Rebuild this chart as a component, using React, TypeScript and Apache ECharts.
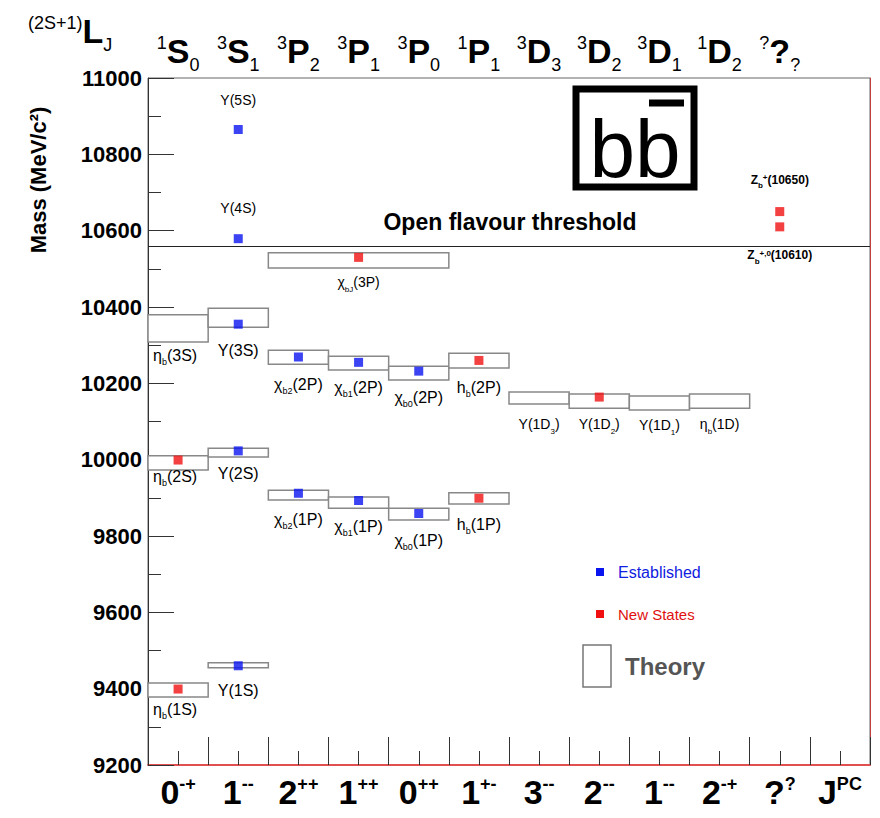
import { useEffect, useRef } from 'react'
import * as echarts from 'echarts'

// column labels (bottom: J^PC, top: spectroscopic notation)
const jpcLabels = ['{b|0}{s|-+}', '{b|1}{s|--}', '{b|2}{s|++}', '{b|1}{s|++}', '{b|0}{s|++}', '{b|1}{s|+-}', '{b|3}{s|--}', '{b|2}{s|--}', '{b|1}{s|--}', '{b|2}{s|-+}', '{b|?}{s|?}', '{b|J}{s|PC}']
const termLabels = ['{p|1}{b|S}{d|0}', '{p|3}{b|S}{d|1}', '{p|3}{b|P}{d|2}', '{p|3}{b|P}{d|1}', '{p|3}{b|P}{d|0}', '{p|1}{b|P}{d|1}', '{p|3}{b|D}{d|3}', '{p|3}{b|D}{d|2}', '{p|3}{b|D}{d|1}', '{p|1}{b|D}{d|2}', '{p|?}{b|?}{d|?}', '']

// theory boxes: [colStart, colEnd, massLow, massHigh]
const theoryBoxes = [
  [0, 1, 9378, 9415], [1, 2, 9455, 9468], [0, 1, 9973, 10010], [1, 2, 10007, 10030],
  [0, 1, 10308, 10380], [1, 2, 10347, 10397], [2, 3, 10250, 10287], [3, 4, 10235, 10271],
  [4, 5, 10209, 10245], [5, 6, 10240, 10279], [2, 5, 10502, 10542], [6, 7, 10146, 10177],
  [7, 8, 10135, 10172], [8, 9, 10130, 10167], [9, 10, 10135, 10172], [2, 3, 9894, 9920],
  [3, 4, 9873, 9902], [4, 5, 9842, 9873], [5, 6, 9884, 9913],
]

// measured states: [column centre, mass]
const established = [
  [1.5, 9460], [1.5, 10023], [1.5, 10355], [1.5, 10579], [1.5, 10865],
  [2.5, 9912], [3.5, 9893], [4.5, 9859], [2.5, 10269], [3.5, 10255], [4.5, 10232],
]
const newStates = [
  [0.5, 9399], [0.5, 9999], [5.5, 9899], [5.5, 10260], [3.5, 10530], [7.5, 10164], [10.5, 10650], [10.5, 10610],
]

// state labels: [x, mass (label centre), rich text]
const stateLabels: [number, number, string][] = [
  [0.45, 9345, '{n|η}{s|b}{n|(1S)}'], [1.5, 9394, '{n|Υ(1S)}'],
  [0.45, 9955, '{n|η}{s|b}{n|(2S)}'], [1.5, 9965, '{n|Υ(2S)}'],
  [0.45, 10272, '{n|η}{s|b}{n|(3S)}'], [1.5, 10285, '{n|Υ(3S)}'],
  [2.5, 10196, '{n|χ}{s|b2}{n|(2P)}'], [3.5, 10188, '{n|χ}{s|b1}{n|(2P)}'], [4.5, 10162, '{n|χ}{s|b0}{n|(2P)}'], [5.5, 10190, '{n|h}{s|b}{n|(2P)}'],
  [3.5, 10465, '{m|χ}{t|bJ}{m|(3P)}'],
  [6.5, 10093, '{m|Υ(1D}{t|3}{m|)}'], [7.5, 10093, '{m|Υ(1D}{t|2}{m|)}'], [8.5, 10090, '{m|Υ(1D}{t|1}{m|)}'], [9.5, 10093, '{m|η}{t|b}{m|(1D)}'],
  [2.5, 9842, '{n|χ}{s|b2}{n|(1P)}'], [3.5, 9824, '{n|χ}{s|b1}{n|(1P)}'], [4.5, 9787, '{n|χ}{s|b0}{n|(1P)}'], [5.5, 9829, '{n|h}{s|b}{n|(1P)}'],
  [1.5, 10942, '{m|Υ(5S)}'], [1.5, 10659, '{m|Υ(4S)}'],
  [10.5, 10733, '{z|Z}{zs|b}{zp|+}{z|(10650)}'], [10.5, 10536, '{z|Z}{zs|b}{zp|+,0}{z|(10610)}'],
]

const threshold = 10560
const font = 'Liberation Sans, Arial, sans-serif'

export default function App() {
  const ref = useRef<HTMLDivElement>(null)

  useEffect(() => {
    if (!ref.current) return
    const chart = echarts.init(ref.current, null, { renderer: 'svg' })
    const axisRich = {
      b: { fontSize: 34, fontWeight: 'bold', color: '#000', fontFamily: font, verticalAlign: 'bottom' },
      s: { fontSize: 18, fontWeight: 'bold', color: '#000', fontFamily: font, verticalAlign: 'top' },
      p: { fontSize: 18, color: '#000', fontFamily: font, verticalAlign: 'top' },
      d: { fontSize: 18, color: '#000', fontFamily: font, verticalAlign: 'bottom', padding: [0, 0, -6, 0] },
    }
    const labelRich = {
      n: { fontSize: 16, color: '#222', fontFamily: font, verticalAlign: 'bottom' },
      s: { fontSize: 9, color: '#222', fontFamily: font, verticalAlign: 'bottom', padding: [0, 0, -3, 0] },
      m: { fontSize: 14, color: '#222', fontFamily: font, verticalAlign: 'bottom' },
      t: { fontSize: 8, color: '#222', fontFamily: font, verticalAlign: 'bottom', padding: [0, 0, -4, 0] },
      z: { fontSize: 12, fontWeight: 'bold', color: '#222', fontFamily: font, verticalAlign: 'bottom' },
      zs: { fontSize: 8, fontWeight: 'bold', color: '#222', fontFamily: font, verticalAlign: 'bottom', padding: [0, 0, -4, 0] },
      zp: { fontSize: 8, fontWeight: 'bold', color: '#222', fontFamily: font, verticalAlign: 'top' },
    }

    chart.setOption({
      animation: false,
      grid: { left: 148, right: 10, top: 78, bottom: 53, show: true, borderColor: '#666', borderWidth: 1 },
      xAxis: [
        {
          type: 'value', min: 0, max: 12, interval: 1,
          axisLine: { lineStyle: { color: '#e05050', width: 2 } },
          axisTick: { inside: true, length: 28, lineStyle: { color: '#333' } },
          minorTick: { show: true, splitNumber: 2, length: 14, lineStyle: { color: '#333' } },
          axisLabel: { show: false }, splitLine: { show: false },
        },
        {
          type: 'category', data: jpcLabels, position: 'bottom', boundaryGap: true,
          axisLine: { show: false }, axisTick: { show: false },
          axisLabel: { margin: 10, interval: 0, rich: axisRich, formatter: (v: string) => v },
        },
        {
          type: 'category', data: termLabels, position: 'top', boundaryGap: true,
          axisLine: { show: false }, axisTick: { show: false },
          axisLabel: { margin: 10, interval: 0, rich: axisRich, formatter: (v: string) => v },
        },
      ],
      yAxis: [
        {
          type: 'value', min: 9200, max: 11000, interval: 200,
          axisLine: { show: true, lineStyle: { color: '#333' } },
          axisTick: { inside: true, length: 26, lineStyle: { color: '#333' } },
          minorTick: { show: true, splitNumber: 2, length: 13, lineStyle: { color: '#333' } },
          axisLabel: { fontSize: 22, fontWeight: 'bold', color: '#000', fontFamily: font, margin: 6, formatter: (v: number) => String(v) },
          splitLine: { show: false },
        },
        {
          type: 'value', min: 9200, max: 11000, position: 'right',
          axisLine: { show: true, lineStyle: { color: '#c04040' } },
          axisTick: { show: false }, axisLabel: { show: false }, splitLine: { show: false },
        },
      ],
      series: [
        {
          type: 'custom', xAxisIndex: 0, yAxisIndex: 0, data: theoryBoxes,
          renderItem: (_p: any, api: any) => {
            const a = api.coord([api.value(0), api.value(3)])
            const b = api.coord([api.value(1), api.value(2)])
            return { type: 'rect', shape: { x: a[0], y: a[1], width: b[0] - a[0], height: b[1] - a[1] }, style: { fill: '#fff', stroke: '#888', lineWidth: 1.5 } }
          },
          markLine: {
            silent: true, symbol: ['none', 'none'], label: { show: false },
            lineStyle: { color: '#222', type: 'solid', width: 1.2 }, data: [{ yAxis: threshold }],
          },
          z: 2,
        },
        {
          type: 'scatter', xAxisIndex: 0, data: established, symbol: 'rect', symbolSize: 9,
          itemStyle: { color: '#0a14f0' }, z: 5,
        },
        {
          type: 'scatter', xAxisIndex: 0, data: newStates, symbol: 'rect', symbolSize: 9,
          itemStyle: { color: '#f01010' }, z: 5,
        },
        {
          type: 'custom', xAxisIndex: 0, data: stateLabels.map((l) => [l[0], l[1]]),
          renderItem: (p: any, api: any) => {
            const c = api.coord([api.value(0), api.value(1)])
            return { type: 'text', x: c[0], y: c[1], style: { text: stateLabels[p.dataIndex][2], rich: labelRich, align: 'center', verticalAlign: 'middle' } }
          },
          z: 6,
        },
      ],
      graphic: [
        { type: 'text', left: 28, top: 14, style: { text: '{p|(2S+1)}{b|L}{d|J}', rich: axisRich } },
        { type: 'text', x: 38, y: 180, rotation: Math.PI / 2, style: { text: 'Mass (MeV/c²)', fontSize: 22, fontWeight: 'bold', fontFamily: font, fill: '#000', align: 'center', verticalAlign: 'middle' } },
        { type: 'text', x: 510, y: 222, style: { text: 'Open flavour threshold', fontSize: 23, fontWeight: 'bold', fontFamily: font, fill: '#000', align: 'center', verticalAlign: 'middle' } },
        { type: 'rect', shape: { x: 576, y: 89, width: 118, height: 98 }, style: { fill: '#fff', stroke: '#000', lineWidth: 7 }, z: 10 },
        { type: 'text', x: 635, y: 148, style: { text: 'bb', fontSize: 82, fontFamily: font, fill: '#000', align: 'center', verticalAlign: 'middle' }, z: 11 },
        { type: 'line', shape: { x1: 649, y1: 103, x2: 684, y2: 103 }, style: { stroke: '#000', lineWidth: 7 }, z: 11 },
        { type: 'rect', shape: { x: 596, y: 568, width: 8, height: 8 }, style: { fill: '#0a14f0' } },
        { type: 'text', x: 618, y: 572, style: { text: 'Established', fontSize: 16, fontFamily: font, fill: '#1020e0', verticalAlign: 'middle' } },
        { type: 'rect', shape: { x: 596, y: 610, width: 8, height: 8 }, style: { fill: '#f01010' } },
        { type: 'text', x: 618, y: 614, style: { text: 'New States', fontSize: 15, fontFamily: font, fill: '#e01010', verticalAlign: 'middle' } },
        { type: 'rect', shape: { x: 583, y: 645, width: 28, height: 42 }, style: { fill: '#fff', stroke: '#777', lineWidth: 1.5 } },
        { type: 'text', x: 625, y: 666, style: { text: 'Theory', fontSize: 24, fontWeight: 'bold', fontFamily: font, fill: '#555', verticalAlign: 'middle' } },
      ],
    })
    return () => chart.dispose()
  }, [])

  return <div ref={ref} style={{ width: 880, height: 818, margin: -8, background: '#fff' }} />
}
